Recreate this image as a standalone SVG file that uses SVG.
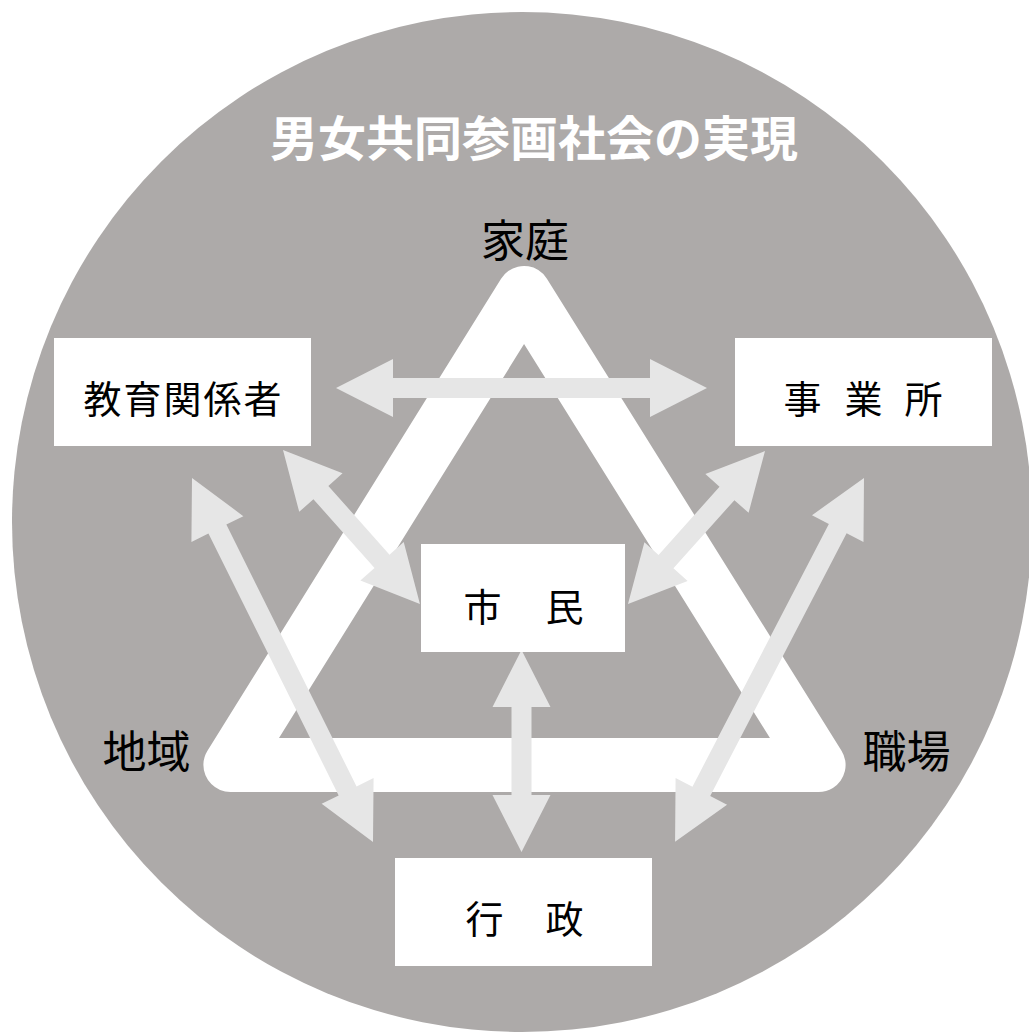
<svg xmlns="http://www.w3.org/2000/svg" width="1029" height="1033" viewBox="0 0 1029 1033">
<style>
.lbl{font-family:"Noto Sans CJK JP","Noto Sans CJK SC",sans-serif;fill:#000;text-anchor:middle;dominant-baseline:central}
.box{fill:#fff}
.arr{fill:#E6E6E6}
</style>
<rect width="1029" height="1033" fill="#fff"/>
<circle cx="522" cy="522" r="510" fill="#ADAAA9"/>
<text id="title" x="534" y="135" class="lbl" style="fill:#fff;font-weight:bold" font-size="48">男女共同参画社会の実現</text>
<g id="triangle">
<path d="M524,293 L818.6,765 L230.4,765 Z" fill="none" stroke="#fff" stroke-width="54" stroke-linejoin="round"/>
</g>
<text id="katei" x="525" y="237.5" class="lbl" font-size="44">家庭</text>
<text id="chiiki" x="146.5" y="748.5" class="lbl" font-size="44">地域</text>
<text id="shokuba" x="906.5" y="748.5" class="lbl" font-size="44">職場</text>
<g id="connectors">
<path class="arr" transform="translate(336,388)" d="M0,0 L57,-29 L57,-10 L314,-10 L314,-29 L371,0 L314,29 L314,10 L57,10 L57,29 Z"/>
<path class="arr" transform="translate(283,450) rotate(48.34)" d="M0,0 L57,-29 L57,-10 L149,-10 L149,-29 L206,0 L149,29 L149,10 L57,10 L57,29 Z"/>
<path class="arr" transform="translate(765,451) rotate(131.84)" d="M0,0 L57,-29 L57,-10 L148.4,-10 L148.4,-29 L205.4,0 L148.4,29 L148.4,10 L57,10 L57,29 Z"/>
<path class="arr" transform="translate(192,478) rotate(63.56)" d="M0,0 L57,-29 L57,-10 L349.5,-10 L349.5,-29 L406.5,0 L349.5,29 L349.5,10 L57,10 L57,29 Z"/>
<path class="arr" transform="translate(864,478) rotate(117.44)" d="M0,0 L57,-29 L57,-10 L353,-10 L353,-29 L410,0 L353,29 L353,10 L57,10 L57,29 Z"/>
<path class="arr" transform="translate(521.5,650) rotate(90)" d="M0,0 L57,-29 L57,-10 L145,-10 L145,-29 L202,0 L145,29 L145,10 L57,10 L57,29 Z"/>
</g>
<g id="kyoiku">
<rect class="box" x="54" y="338" width="257" height="108"/>
<text class="lbl" x="102.5 142.5 182.5 222.5 262.5" y="396.5" font-size="38">教育関係者</text>
</g>
<g id="jigyosho">
<rect class="box" x="735" y="338" width="257" height="108"/>
<text class="lbl" x="802.5 833 863.5 893 923.5" y="396.5" font-size="38">事 業 所</text>
</g>
<g id="shimin">
<rect class="box" x="421" y="544" width="204" height="108"/>
<text class="lbl" x="482.5 523.5 564.5" y="604.5" font-size="38">市 民</text>
</g>
<g id="gyosei">
<rect class="box" x="395" y="858" width="257" height="108"/>
<text class="lbl" x="484.5 524.5 564.5" y="916.5" font-size="38">行 政</text>
</g>
</svg>
